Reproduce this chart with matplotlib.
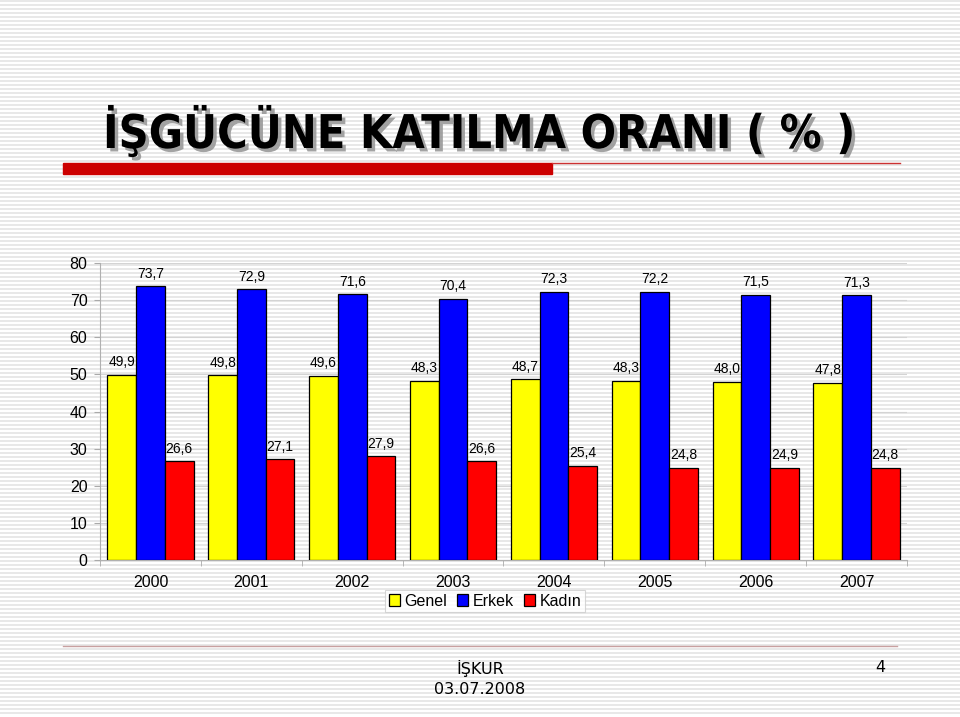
import numpy as np
import matplotlib.pyplot as plt
import matplotlib.patheffects as pe
from matplotlib.lines import Line2D
from matplotlib.patches import Rectangle

years = ['2000', '2001', '2002', '2003', '2004', '2005', '2006', '2007']
genel = [49.9, 49.8, 49.6, 48.3, 48.7, 48.3, 48.0, 47.8]
erkek = [73.7, 72.9, 71.6, 70.4, 72.3, 72.2, 71.5, 71.3]
kadin = [26.6, 27.1, 27.9, 26.6, 25.4, 24.8, 24.9, 24.8]

series = [('Genel', genel, '#ffff00'), ('Erkek', erkek, '#0000ff'), ('Kadın', kadin, '#ff0000')]

fig = plt.figure(figsize=(9.6, 7.17), dpi=100)

# striped slide background
bg = fig.add_axes([0, 0, 1, 1], zorder=-10)
bg.set_xlim(0, 960)
bg.set_ylim(717, 0)
bg.axis('off')
bg.hlines(np.arange(1, 717, 4), 0, 960, color='#e6e6e6', lw=1.3, zorder=1)

# title + red underline
fig.text(103 / 960, 1 - 132 / 717, 'İŞGÜCÜNE KATILMA ORANI ( % )', fontsize=33.5,
         fontweight='bold', fontstretch='condensed', va='center', ha='left',
         path_effects=[pe.withSimplePatchShadow(offset=(2.5, -2.5), shadow_rgbFace='#999999', alpha=0.9)])
bg.add_patch(Rectangle((63, 163), 489, 11, color='#cc0000', zorder=5))
bg.add_line(Line2D([552, 900], [163, 163], color='#cc3333', lw=1, zorder=5))

# footer
bg.add_line(Line2D([63, 897], [646, 646], color='#c8a0a0', lw=1, zorder=5))
bg.text(480, 668, 'İŞKUR', ha='center', va='center', fontsize=11.5)
bg.text(480, 689, '03.07.2008', ha='center', va='center', fontsize=11.5)
bg.text(880, 668, '4', ha='center', va='center', fontsize=11.5)

arial = 'Liberation Sans'
ax = fig.add_axes([100 / 960, 1 - 560 / 717, 807 / 960, 297 / 717])
ax.patch.set_alpha(0)
x = np.arange(len(years))
w = 0.285
for i, (name, vals, col) in enumerate(series):
    bars = ax.bar(x + (i - 1) * w, vals, w, color=col, edgecolor='black', lw=0.9, label=name, zorder=3)
    ax.bar_label(bars, labels=[f'{v:.1f}'.replace('.', ',') for v in vals], padding=4,
                 fontsize=10, family=arial)

ax.set_xlim(-0.5, 7.5)
ax.set_ylim(0, 80)
ax.set_yticks(range(0, 81, 10))
ax.yaxis.grid(True, color='#d4d4d4', lw=0.8, zorder=0)
ax.set_xticks(x)
ax.set_xticklabels(years)
ax.set_xticks(np.arange(-0.5, 8, 1), minor=True)
ax.tick_params(axis='x', which='major', length=0, labelsize=11.5, pad=11)
ax.tick_params(axis='x', which='minor', length=4, color='#aaaaaa', direction='out')
ax.tick_params(axis='y', length=4, color='#aaaaaa', labelsize=11.5, pad=5)
for lbl in ax.get_xticklabels() + ax.get_yticklabels():
    lbl.set_family(arial)
for s in ['top', 'right']:
    ax.spines[s].set_visible(False)
for s in ['left', 'bottom']:
    ax.spines[s].set_color('#b0b0b0')

leg = ax.legend(loc='center', bbox_to_anchor=(485 / 960, 1 - 601 / 717), bbox_transform=fig.transFigure,
                ncol=3, prop={'family': arial, 'size': 11.5}, frameon=True, fancybox=False,
                handlelength=0.7, handleheight=0.7, handletextpad=0.3, columnspacing=0.6,
                borderpad=0.25, borderaxespad=0)
leg.get_frame().set_edgecolor('#cccccc')
leg.get_frame().set_linewidth(0.8)

fig.savefig('out.png', dpi=100)
